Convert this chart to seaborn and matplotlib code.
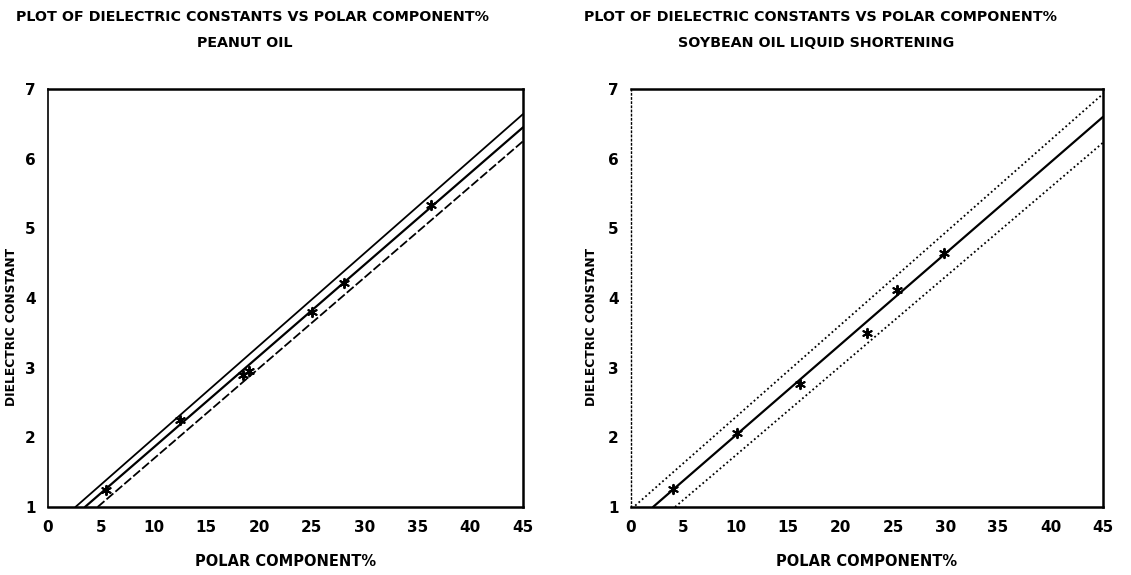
import matplotlib
matplotlib.use("Agg")
import matplotlib.pyplot as plt
from matplotlib.ticker import MultipleLocator
import seaborn as sns
import pandas as pd

# ---- data -----------------------------------------------------------------
title_line1 = "PLOT OF DIELECTRIC CONSTANTS VS POLAR COMPONENT%"
peanut_name = "PEANUT OIL"
soy_name = "SOYBEAN OIL LIQUID SHORTENING"
x_label = "POLAR COMPONENT%"
y_label = "DIELECTRIC CONSTANT"
x_ticks = [0, 5, 10, 15, 20, 25, 30, 35, 40, 45]
y_ticks = [1, 2, 3, 4, 5, 6, 7]

# peanut oil: measured points
peanut_polar = [5.5, 12.5, 18.5, 19.0, 25.0, 28.0, 36.3]
peanut_dielec = [1.25, 2.25, 2.9, 2.95, 3.8, 4.22, 5.33]
# peanut oil: fitted line and its confidence limits (end points)
peanut_fit_x = [3.5, 45.0]
peanut_fit_y = [1.0, 6.45]
peanut_upper_x = [2.6, 45.0]
peanut_upper_y = [1.0, 6.64]
peanut_lower_x = [4.7, 45.0]
peanut_lower_y = [1.0, 6.25]

# soybean oil liquid shortening: measured points
soy_polar = [4.0, 10.1, 16.1, 22.5, 25.4, 29.8]
soy_dielec = [1.26, 2.06, 2.76, 3.5, 4.12, 4.65]
# soybean: fitted line and confidence limits (end points)
soy_fit_x = [2.1, 45.0]
soy_fit_y = [1.0, 6.6]
soy_upper_x = [0.4, 45.0]
soy_upper_y = [1.02, 6.93]
soy_lower_x = [4.2, 45.0]
soy_lower_y = [1.0, 6.23]

# ---- style ----------------------------------------------------------------
sns.set_style("white")
plt.rcParams["font.family"] = ["DejaVu Sans"]
plt.rcParams["font.weight"] = "bold"
for key in ["text.color", "axes.labelcolor", "xtick.color", "ytick.color",
            "axes.edgecolor"]:
    plt.rcParams[key] = "black"

fig = plt.figure(figsize=(11.31, 5.75), dpi=100)
ax1 = fig.add_axes([48 / 1131, 1 - 507 / 575, 475 / 1131, 418 / 575])
ax2 = fig.add_axes([631 / 1131, 1 - 507 / 575, 472 / 1131, 418 / 575])

tick_font = dict(weight="bold", size=11)


def draw_panel(ax, px, py, fx, fy, ux, uy, lx, ly, band_style, upper_style,
               ylabel_x):
    sns.lineplot(x=fx, y=fy, ax=ax, color="black", lw=1.6, estimator=None, sort=False)
    sns.lineplot(x=ux, y=uy, ax=ax, color="black", lw=1.3, estimator=None,
                 sort=False, linestyle=upper_style)
    sns.lineplot(x=lx, y=ly, ax=ax, color="black", lw=1.3, estimator=None,
                 sort=False, linestyle=band_style)
    pts = pd.DataFrame({"polar": px, "dielec": py})
    sns.scatterplot(data=pts, x="polar", y="dielec", ax=ax, marker=(6, 2, 0),
                    s=45, color="black", linewidth=1.4, zorder=5)
    ax.set_xlim(0, 45)
    ax.set_ylim(1, 7)
    ax.set_xticks(x_ticks)
    ax.set_yticks(y_ticks)
    ax.xaxis.set_minor_locator(MultipleLocator(2.5))
    ax.yaxis.set_minor_locator(MultipleLocator(0.5))
    ax.set_xticklabels([str(t) for t in x_ticks], **tick_font)
    ax.set_yticklabels([str(t) for t in y_ticks], **tick_font)
    ax.tick_params(axis="both", which="major", direction="out", length=3,
                   width=1, color="black", pad=6)
    ax.tick_params(axis="both", which="minor", direction="out", length=2,
                   width=0.8, color="black")
    ax.set_xlabel(x_label, fontsize=10.5, fontweight="bold", labelpad=14)
    ax.set_ylabel(y_label, fontsize=8.8, fontweight="bold")
    ax.yaxis.set_label_coords(ylabel_x, 0.43)
    for side in ["top", "right", "bottom"]:
        ax.spines[side].set_visible(True)
        ax.spines[side].set_color("black")
        ax.spines[side].set_linewidth(1.8)


draw_panel(ax1, peanut_polar, peanut_dielec, peanut_fit_x, peanut_fit_y,
           peanut_upper_x, peanut_upper_y, peanut_lower_x, peanut_lower_y,
           band_style=(0, (5, 1.5)), upper_style="-", ylabel_x=-0.063)
ax1.spines["left"].set_color("black")
ax1.spines["left"].set_linewidth(1.2)

draw_panel(ax2, soy_polar, soy_dielec, soy_fit_x, soy_fit_y,
           soy_upper_x, soy_upper_y, soy_lower_x, soy_lower_y,
           band_style=(0, (1, 1.5)), upper_style=(0, (1, 1.5)), ylabel_x=-0.07)
ax2.spines["left"].set_color("black")
ax2.spines["left"].set_linewidth(1.0)
ax2.spines["left"].set_linestyle((0, (1, 2)))

title_kw = dict(fontsize=10.3, fontweight="bold", ha="center", va="center")
fig.text(252 / 1131, 1 - 17 / 575, title_line1, **title_kw)
fig.text(245 / 1131, 1 - 43 / 575, peanut_name, **title_kw)
fig.text(821 / 1131, 1 - 17 / 575, title_line1, **title_kw)
fig.text(816 / 1131, 1 - 43 / 575, soy_name, **title_kw)

fig.savefig("out.png", dpi=100, facecolor="white")
